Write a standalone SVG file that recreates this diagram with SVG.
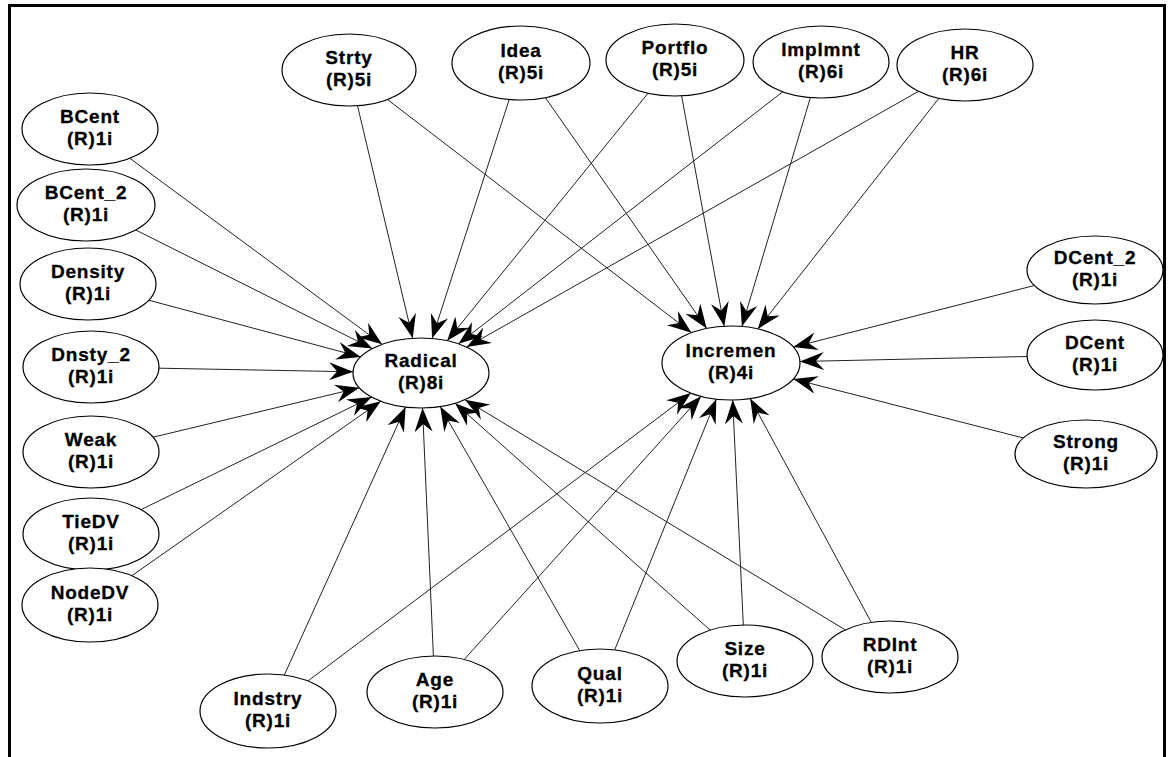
<svg xmlns="http://www.w3.org/2000/svg" width="1171" height="757" viewBox="0 0 1171 757">
  <style>
    .frame { fill: none; stroke: #000; stroke-width: 3; }
    .node ellipse { fill: #fff; stroke: #000; stroke-width: 1.2; }
    .node text { font-family: "Liberation Sans", Arial, sans-serif; font-weight: bold; font-size: 19px; letter-spacing: 0.8px; fill: #000; stroke: #000; stroke-width: 0.3; text-anchor: middle; }
    .edges line { stroke: #222; stroke-width: 1; marker-end: url(#head); }
  </style>
  <defs>
    <marker id="head" markerUnits="userSpaceOnUse" markerWidth="26" markerHeight="20" refX="24" refY="9" orient="auto">
      <path d="M24,9 L0,0 L8,9 L0,18 Z" fill="#000"/>
    </marker>
  </defs>

  <rect width="1171" height="757" fill="#fff"/>
  <path class="frame" d="M9.5,757 V5.5 H1164.5 V757"/>

  <!-- connectors: every arrow points into Radical or Incremen -->
  <g id="edges" class="edges">
    <!-- into Radical -->
    <line x1="129.7" y1="158.2" x2="382.1" y2="344.3"/>
    <line x1="135.4" y1="229.8" x2="372.3" y2="348.6"/>
    <line x1="148.7" y1="300.2" x2="360.7" y2="356.9"/>
    <line x1="159.0" y1="368.2" x2="353.1" y2="371.8"/>
    <line x1="153.0" y1="437.2" x2="359.3" y2="387.8"/>
    <line x1="141.0" y1="509.6" x2="371.6" y2="397.1"/>
    <line x1="131.0" y1="576.3" x2="380.7" y2="401.2"/>
    <line x1="357.5" y1="105.7" x2="412.7" y2="338.3"/>
    <line x1="509.2" y1="99.5" x2="432.1" y2="338.5"/>
    <line x1="648.2" y1="93.1" x2="447.2" y2="340.7"/>
    <line x1="782.7" y1="91.8" x2="458.5" y2="343.8"/>
    <line x1="918.6" y1="91.3" x2="466.7" y2="347.1"/>
    <line x1="284.3" y1="675.1" x2="405.6" y2="407.1"/>
    <line x1="433.4" y1="656.0" x2="422.5" y2="408.0"/>
    <line x1="579.8" y1="650.7" x2="440.2" y2="406.6"/>
    <line x1="710.2" y1="630.1" x2="455.1" y2="403.3"/>
    <line x1="845.3" y1="629.9" x2="465.0" y2="399.7"/>
    <!-- into Incremen -->
    <line x1="387.6" y1="99.6" x2="691.5" y2="332.7"/>
    <line x1="545.3" y1="97.6" x2="706.7" y2="328.4"/>
    <line x1="681.6" y1="95.8" x2="724.2" y2="326.2"/>
    <line x1="810.4" y1="97.6" x2="741.9" y2="326.5"/>
    <line x1="938.9" y1="98.2" x2="757.8" y2="328.9"/>
    <line x1="1034.1" y1="285.6" x2="793.3" y2="347.1"/>
    <line x1="1027.0" y1="356.5" x2="799.9" y2="361.5"/>
    <line x1="1023.4" y1="438.0" x2="793.3" y2="379.0"/>
    <line x1="307.9" y1="681.0" x2="690.9" y2="393.1"/>
    <line x1="464.2" y1="659.5" x2="701.0" y2="396.3"/>
    <line x1="614.7" y1="649.9" x2="716.3" y2="399.2"/>
    <line x1="743.3" y1="625.0" x2="732.7" y2="400.0"/>
    <line x1="871.3" y1="622.4" x2="750.2" y2="398.5"/>
  </g>

  <!-- left column -->
  <g id="n-bcent" class="node"><ellipse cx="90" cy="129" rx="68" ry="36"/><text><tspan x="90" y="123">BCent</tspan><tspan x="90" y="145">(R)1i</tspan></text></g>
  <g id="n-bcent2" class="node"><ellipse cx="86" cy="205" rx="69" ry="36"/><text><tspan x="86" y="199">BCent_2</tspan><tspan x="86" y="221">(R)1i</tspan></text></g>
  <g id="n-density" class="node"><ellipse cx="88" cy="284" rx="68" ry="36"/><text><tspan x="88" y="278">Density</tspan><tspan x="88" y="300">(R)1i</tspan></text></g>
  <g id="n-dnsty2" class="node"><ellipse cx="91" cy="367" rx="68" ry="36"/><text><tspan x="91" y="361">Dnsty_2</tspan><tspan x="91" y="383">(R)1i</tspan></text></g>
  <g id="n-weak" class="node"><ellipse cx="91" cy="452" rx="68" ry="36"/><text><tspan x="91" y="446">Weak</tspan><tspan x="91" y="468">(R)1i</tspan></text></g>
  <g id="n-tiedv" class="node"><ellipse cx="91" cy="534" rx="68" ry="36"/><text><tspan x="91" y="528">TieDV</tspan><tspan x="91" y="550">(R)1i</tspan></text></g>
  <g id="n-nodedv" class="node"><ellipse cx="90" cy="605" rx="68" ry="37"/><text><tspan x="90" y="599">NodeDV</tspan><tspan x="90" y="621">(R)1i</tspan></text></g>

  <!-- top row -->
  <g id="n-strty" class="node"><ellipse cx="349" cy="70" rx="67" ry="36"/><text><tspan x="349" y="64">Strty</tspan><tspan x="349" y="86">(R)5i</tspan></text></g>
  <g id="n-idea" class="node"><ellipse cx="521" cy="63" rx="69" ry="37"/><text><tspan x="521" y="57">Idea</tspan><tspan x="521" y="79">(R)5i</tspan></text></g>
  <g id="n-portflo" class="node"><ellipse cx="675" cy="60" rx="69" ry="36"/><text><tspan x="675" y="54">Portflo</tspan><tspan x="675" y="76">(R)5i</tspan></text></g>
  <g id="n-implmnt" class="node"><ellipse cx="821" cy="62" rx="68" ry="36"/><text><tspan x="821" y="56">Implmnt</tspan><tspan x="821" y="78">(R)6i</tspan></text></g>
  <g id="n-hr" class="node"><ellipse cx="965" cy="65" rx="68" ry="36"/><text><tspan x="965" y="59">HR</tspan><tspan x="965" y="81">(R)6i</tspan></text></g>

  <!-- right column -->
  <g id="n-dcent2" class="node"><ellipse cx="1095" cy="270" rx="68" ry="34"/><text><tspan x="1095" y="264">DCent_2</tspan><tspan x="1095" y="286">(R)1i</tspan></text></g>
  <g id="n-dcent" class="node"><ellipse cx="1095" cy="355" rx="68" ry="35"/><text><tspan x="1095" y="349">DCent</tspan><tspan x="1095" y="371">(R)1i</tspan></text></g>
  <g id="n-strong" class="node"><ellipse cx="1086" cy="454" rx="71" ry="34"/><text><tspan x="1086" y="448">Strong</tspan><tspan x="1086" y="470">(R)1i</tspan></text></g>

  <!-- bottom row -->
  <g id="n-indstry" class="node"><ellipse cx="268" cy="711" rx="68" ry="37"/><text><tspan x="268" y="705">Indstry</tspan><tspan x="268" y="727">(R)1i</tspan></text></g>
  <g id="n-age" class="node"><ellipse cx="435" cy="692" rx="68" ry="36"/><text><tspan x="435" y="686">Age</tspan><tspan x="435" y="708">(R)1i</tspan></text></g>
  <g id="n-qual" class="node"><ellipse cx="600" cy="686" rx="68" ry="37"/><text><tspan x="600" y="680">Qual</tspan><tspan x="600" y="702">(R)1i</tspan></text></g>
  <g id="n-size" class="node"><ellipse cx="745" cy="661" rx="68" ry="36"/><text><tspan x="745" y="655">Size</tspan><tspan x="745" y="677">(R)1i</tspan></text></g>
  <g id="n-rdint" class="node"><ellipse cx="890" cy="657" rx="68" ry="36"/><text><tspan x="890" y="651">RDInt</tspan><tspan x="890" y="673">(R)1i</tspan></text></g>

  <!-- the two target nodes -->
  <g id="n-radical" class="node"><ellipse cx="421" cy="373" rx="68" ry="35"/><text><tspan x="421" y="367">Radical</tspan><tspan x="421" y="389">(R)8i</tspan></text></g>
  <g id="n-incremen" class="node"><ellipse cx="731" cy="363" rx="69" ry="37"/><text><tspan x="731" y="357">Incremen</tspan><tspan x="731" y="379">(R)4i</tspan></text></g>
</svg>
